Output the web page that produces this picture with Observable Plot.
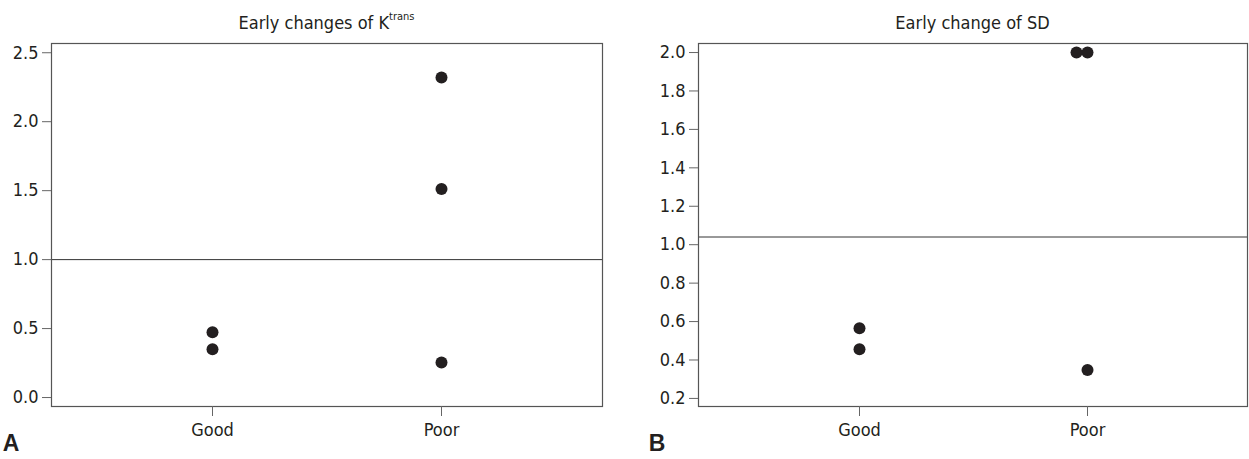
<!DOCTYPE html>
<html><head><meta charset="utf-8">
<script src="https://cdn.jsdelivr.net/npm/d3@7"></script>
<script src="https://cdn.jsdelivr.net/npm/@observablehq/plot@0.6"></script>
<style>
body{margin:0;background:#fff;}
#wrap{position:relative;width:1249px;height:459px;overflow:hidden;}
.panel{position:absolute;top:0;}
</style></head><body>
<div id="wrap"></div>
<script>
// ---------- data ----------
const groups = ["Good", "Poor"];

// Panel A: Early changes of Ktrans
const ktransGroup = ["Good", "Good", "Poor", "Poor", "Poor"];
const ktransValue = [0.473, 0.35, 2.321, 1.512, 0.254];
const ktransTicks = [0.0, 0.5, 1.0, 1.5, 2.0, 2.5];
const ktransRef = [1.0];

// Panel B: Early change of SD
const sdGroup = ["Good", "Good", "Poor", "Poor", "Poor"];
const sdValue = [0.565, 0.456, 2.0, 2.0, 0.348];
const sdTicks = [0.2, 0.4, 0.6, 0.8, 1.0, 1.2, 1.4, 1.6, 1.8, 2.0];
const sdRef = [1.04];

const FONT = "'Liberation Sans Narrow','DejaVu Sans Condensed','Arial Narrow',sans-serif";
const INK = "#231f20";

function makePanel(cfg) {
  // rows with duplicate rank (identical group & value get dodged sideways)
  const seen = new Map();
  const rows = cfg.group.map((g, i) => {
    const key = g + "|" + cfg.value[i];
    const rank = seen.get(key) || 0;
    seen.set(key, rank + 1);
    return {group: g, value: cfg.value[i], rank};
  });
  const ranks = [...new Set(rows.map(d => d.rank))];
  const svg = Plot.plot({
    width: cfg.width, height: 459,
    marginTop: 43, marginBottom: 53,
    marginLeft: cfg.marginLeft, marginRight: cfg.marginRight,
    style: {fontFamily: FONT, fontSize: "18px", color: INK, background: "white", overflow: "visible"},
    x: {type: "point", domain: groups, padding: 0.7, label: null},
    y: {domain: cfg.domain, label: null},
    marks: [
      Plot.ruleY(cfg.ref, {stroke: "#333", strokeWidth: 1}),
      Plot.frame({stroke: "#555", strokeWidth: 1.2}),
      Plot.axisY({ticks: cfg.ticks, tickFormat: ".1f", tickSize: 9, tickPadding: 4, label: null, stroke: "#666", fill: INK}),
      Plot.axisX({tickSize: 10, tickPadding: 7, label: null, stroke: "#666", fill: INK}),
      ...ranks.map(r => Plot.dot(rows.filter(d => d.rank === r),
        {x: "group", y: "value", r: 6, fill: INK, stroke: "none", dx: -11 * r}))
    ]
  });
  const s = d3.select(svg);
  const cx = cfg.marginLeft + (cfg.width - cfg.marginLeft - cfg.marginRight) / 2;
  const t = s.append("text")
    .attr("x", cx).attr("y", 28.5)
    .attr("text-anchor", "middle")
    .attr("font-family", FONT).attr("font-size", 18).attr("fill", INK);
  t.append("tspan").text(cfg.title);
  if (cfg.sup) {
    t.append("tspan").attr("font-size", 11).attr("dy", -9).text(cfg.sup);
  }
  s.append("text")
    .attr("x", cfg.letterX).attr("y", 451)
    .attr("font-family", "'Liberation Sans',Arial,sans-serif")
    .attr("font-weight", "bold").attr("font-size", 23).attr("fill", INK)
    .text(cfg.letter);
  const div = document.createElement("div");
  div.className = "panel";
  div.style.left = cfg.left + "px";
  div.appendChild(svg);
  document.getElementById("wrap").appendChild(div);
}

makePanel({
  left: 0, width: 624, marginLeft: 51, marginRight: 22,
  group: ktransGroup, value: ktransValue, ticks: ktransTicks, ref: ktransRef,
  domain: [-0.065, 2.567], title: "Early changes of K", sup: "trans",
  letter: "A", letterX: 11
});
makePanel({
  left: 624, width: 625, marginLeft: 74, marginRight: 2,
  group: sdGroup, value: sdValue, ticks: sdTicks, ref: sdRef,
  domain: [0.158, 2.047], title: "Early change of SD", sup: null,
  letter: "B", letterX: 33
});
</script>
</body></html>
